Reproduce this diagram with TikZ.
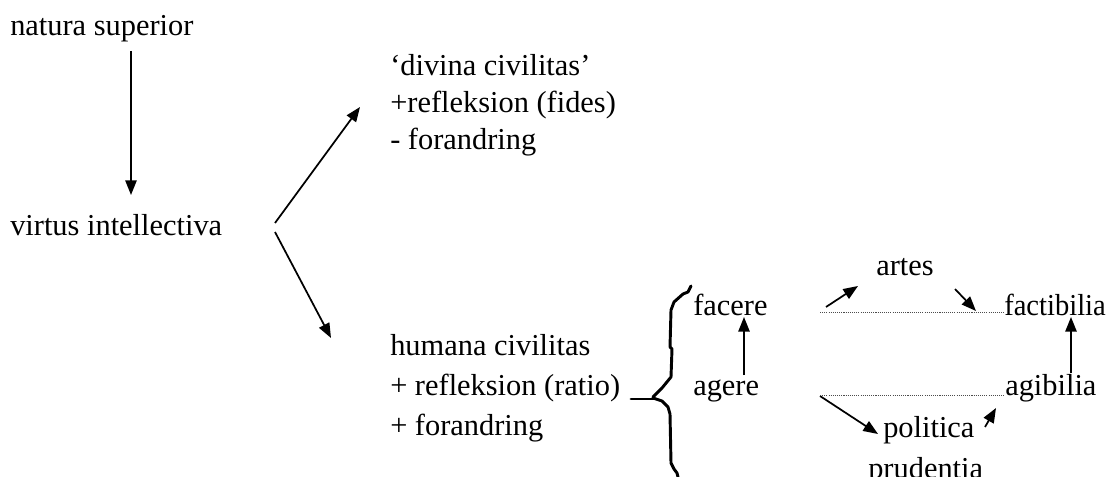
\documentclass[tikz,border=0pt]{standalone}
\usepackage{fontspec}
\setmainfont{Liberation Serif}
\usetikzlibrary{arrows.meta}
\begin{document}
\begin{tikzpicture}[x=0.75pt,y=-0.75pt,
  lbl/.style={anchor=base west, inner sep=0pt, font=\fontsize{22.8}{27}\selectfont},
  arr/.style={line width=1.3pt, -{Triangle[length=11pt,width=8.5pt]}},
  guide/.style={line width=0.6pt, black!70, dash pattern=on 0.8pt off 0.8pt},
  brace/.style={line width=2.2pt, line join=round, line cap=round}]
\useasboundingbox (0,0) rectangle (1109,477);

% texts
\node[lbl] (nat) at (10,36) {natura superior};
\node[lbl] (vir) at (10,236) {virtus intellectiva};
\node[lbl] (div1) at (390,76) {‘divina civilitas’};
\node[lbl] (div2) at (390,113) {+refleksion (fides)};
\node[lbl] (div3) at (390,150) {- forandring};
\node[lbl] (hum1) at (390,355) {humana civilitas};
\node[lbl] (hum2) at (390,395) {+ refleksion (ratio)};
\node[lbl] (hum3) at (390,435) {+ forandring};
\node[lbl] (fac) at (693,315) {facere};
\node[lbl] (age) at (693,395) {agere};
\node[lbl] (art) at (876,276) {artes};
\node[lbl] (fct) at (1004,315) {\scalebox{0.94}[1]{factibilia}};
\node[lbl] (agi) at (1005,395) {agibilia};
\node[lbl] (pol) at (883,437) {politica};
\node[lbl] (pru) at (868,478) {prudentia};

% connector ends
\coordinate (natS) at (131,51);
\coordinate (virN) at (131,195);
\coordinate (forkA) at (275,223);
\coordinate (forkB) at (275,232);
\coordinate (divW) at (360,107);
\coordinate (humW) at (331,338);
\coordinate (ageN) at (744,375);
\coordinate (facS) at (744,317);
\coordinate (agiN) at (1071,373);
\coordinate (fctS) at (1071,317);
\coordinate (artA) at (826,307);
\coordinate (artB) at (858,286);
\coordinate (artC) at (955,289);
\coordinate (artD) at (976,311);
\coordinate (polA) at (820,396);
\coordinate (polB) at (878,434);
\coordinate (polC) at (985,427);
\coordinate (polD) at (996,408);
\coordinate (dotA1) at (820,312);
\coordinate (dotA2) at (1004,312);
\coordinate (dotB1) at (820,395);
\coordinate (dotB2) at (1004,395);

% arrows
\draw[arr] (natS) -- (virN);
\draw[arr] (forkA) -- (divW);
\draw[arr] (forkB) -- (humW);
\draw[arr] (ageN) -- (facS);
\draw[arr] (agiN) -- (fctS);
\draw[arr] (artA) -- (artB);
\draw[arr] (artC) -- (artD);
\draw[arr] (polA) -- (polB);
\draw[arr] (polC) -- (polD);

% dotted guide lines
\draw[guide] (dotA1) -- (dotA2);
\draw[guide] (dotB1) -- (dotB2);

% hand-drawn brace
\draw[brace] (691,286) -- (688,292) -- (683,294) -- (674,302) -- (671,310)
  -- (670,347) -- (672,349) -- (671,377) -- (662,388) -- (653,397);
\draw[brace] (631,399) -- (655,399);
\draw[brace] (653,398) -- (662,401) -- (668,407) -- (670,414) -- (671,463)
  -- (674,469) -- (677,473) -- (678,477);
\end{tikzpicture}
\end{document}
